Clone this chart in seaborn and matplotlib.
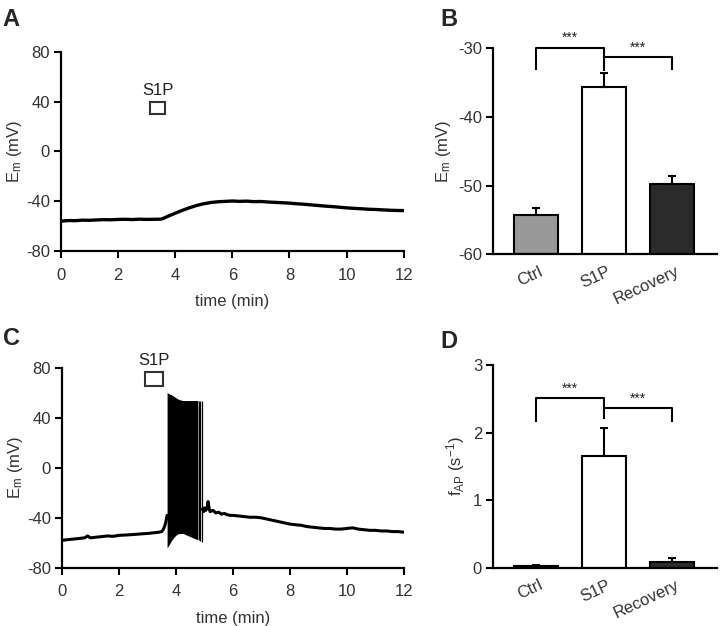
import numpy as np
import pandas as pd
import matplotlib
matplotlib.use("Agg")
import matplotlib.pyplot as plt
import seaborn as sns
from matplotlib.patches import Rectangle
from matplotlib.transforms import ScaledTranslation

sns.set_theme(style="ticks")
plt.rcParams['font.family'] = ['Liberation Sans', 'DejaVu Sans']
plt.rcParams['mathtext.default'] = 'regular'
plt.rcParams['axes.unicode_minus'] = False

# ---------------- data ----------------
# Panel A trace (time in min, Em in mV)
tA = [0, 0.25, 0.5, 0.75, 1, 1.25, 1.5, 1.75, 2, 2.25, 2.5, 2.75, 3, 3.25, 3.5, 3.6,
      3.75, 4, 4.25, 4.5, 4.75, 5, 5.25, 5.5, 5.75, 6, 6.25, 6.5, 6.75, 7, 7.25, 7.5,
      7.75, 8, 8.25, 8.5, 8.75, 9, 9.25, 9.5, 9.75, 10, 10.25, 10.5, 10.75, 11, 11.25,
      11.5, 11.75, 12]
vA = [-56, -55.5, -55.6, -55.2, -55.3, -55, -54.8, -54.9, -54.6, -54.5, -54.7, -54.4,
      -54.6, -54.5, -54.4, -53.6, -52, -49.6, -47.3, -45.2, -43.4, -42, -41, -40.4,
      -40.1, -39.8, -40.1, -39.9, -40.3, -40.2, -40.6, -40.9, -41.2, -41.5, -42, -42.4,
      -42.9, -43.4, -43.9, -44.3, -44.8, -45.3, -45.7, -46, -46.4, -46.6, -46.9, -47.2,
      -47.4, -47.5]

# Panel C trace before / after the spike train
tC_pre = [0, 0.2, 0.4, 0.6, 0.8, 0.9, 1, 1.2, 1.4, 1.6, 1.8, 2, 2.2, 2.4, 2.6, 2.8,
          3, 3.2, 3.4, 3.5, 3.55, 3.6, 3.65, 3.69]
vC_pre = [-58, -57.5, -57, -56.5, -56, -54.5, -56, -55.5, -55, -54.5, -54.8, -54, -53.8,
          -53.5, -53.2, -52.8, -52.5, -52, -51.5, -51, -49.5, -47, -43, -38]
tC_post = [4.93, 4.97, 5.0, 5.05, 5.1, 5.13, 5.17, 5.2, 5.3, 5.4, 5.5, 5.6, 5.7, 5.8,
           5.9, 6, 6.2, 6.4, 6.6, 6.8, 7, 7.2, 7.4, 7.6, 7.8, 8, 8.2, 8.4, 8.6, 8.8, 9,
           9.2, 9.4, 9.6, 9.8, 10, 10.2, 10.4, 10.6, 10.8, 11, 11.2, 11.4, 11.6, 11.8, 12]
vC_post = [-33, -35, -32, -34, -31, -27, -33, -35, -34, -36, -35.5, -37, -36.5, -37.5,
           -38, -38, -38.5, -39, -39.5, -39.5, -40, -41, -42, -43, -44, -45, -45.5, -46,
           -47, -47.5, -48, -48.5, -48.5, -49, -49, -48.5, -48, -49, -49.5, -50, -50,
           -50.5, -50.5, -51, -51, -51.5]
# envelope of the action-potential burst
spk_t = [3.69, 3.75, 3.85, 3.95, 4.05, 4.15, 4.25, 4.4, 4.55, 4.7, 4.77]
spk_hi = [60.5, 59.5, 58.5, 57, 55.5, 54.5, 54, 54, 54, 54, 54]
spk_lo = [-64, -62, -58, -55, -53, -52.5, -52.5, -54, -55.5, -57, -57.5]
iso_t = [4.80, 4.84, 4.91]
iso_hi = [54, 54, 54]
iso_lo = [-58, -58.5, -59]

# Bar charts
groups = ["Ctrl", "S1P", "Recovery"]
em_mean = [-54.3, -35.7, -49.8]
em_sem = [1.0, 2.1, 1.2]
fap_mean = [0.02, 1.66, 0.08]
fap_sem = [0.02, 0.41, 0.07]
bar_colors = ["#999999", "#ffffff", "#2b2b2b"]

# ---------------- figure ----------------
fig = plt.figure(figsize=(7.2, 6.26), dpi=100)
axA = fig.add_axes([0.0847, 0.599, 0.476, 0.318])
axB = fig.add_axes([0.685, 0.594, 0.311, 0.329])
axC = fig.add_axes([0.086, 0.093, 0.475, 0.319])
axD = fig.add_axes([0.685, 0.093, 0.311, 0.324])

tick_col = "#333333"
fs = 12


def style(ax):
    sns.despine(ax=ax)
    for s in ("left", "bottom"):
        ax.spines[s].set_linewidth(1.6)
        ax.spines[s].set_color("black")
    ax.tick_params(axis="both", direction="out", length=5, width=1.5, color="black",
                   labelsize=fs, labelcolor=tick_col, pad=3)


def trace_axes(ax):
    style(ax)
    ax.set_xlim(0, 12)
    ax.set_ylim(-80, 80)
    ax.set_xticks(range(0, 13, 2))
    ax.set_yticks([-80, -40, 0, 40, 80])
    ax.tick_params(axis="x", pad=7)
    ax.set_xlabel("time (min)", fontsize=fs, color=tick_col, labelpad=8)
    ax.set_ylabel(r"E$_{m}$ (mV)", fontsize=fs, color=tick_col, labelpad=1)


# Panel A
sns.lineplot(x=tA, y=vA, ax=axA, color="black", lw=2.4, estimator=None)
trace_axes(axA)
axA.add_patch(Rectangle((3.12, 30), 0.52, 10, fill=False, ec="#333333", lw=1.5))
axA.text(3.38, 43, "S1P", ha="center", va="bottom", fontsize=fs, color="#222222")

# Panel C
sns.lineplot(x=tC_pre, y=vC_pre, ax=axC, color="black", lw=2.2, estimator=None)
sns.lineplot(x=tC_post, y=vC_post, ax=axC, color="black", lw=2.2, estimator=None)
axC.fill_between(spk_t, spk_lo, spk_hi, color="black", lw=0)
axC.vlines(iso_t, iso_lo, iso_hi, color="black", lw=0.9)
trace_axes(axC)
axC.add_patch(Rectangle((2.92, 66), 0.62, 11, fill=False, ec="#333333", lw=1.5,
                        clip_on=False))
axC.text(3.23, 80, "S1P", ha="center", va="bottom", fontsize=fs, color="#222222",
         clip_on=False)


def bar_panel(ax, means, sems, ylim, yticks, ylabel, bottom):
    df = pd.DataFrame({"g": groups, "v": [m - bottom for m in means]})
    sns.barplot(data=df, x="g", y="v", hue="g", palette=bar_colors, ax=ax,
                width=0.65, edgecolor="black", linewidth=1.5, legend=False,
                errorbar=None, bottom=bottom)
    ax.errorbar([0, 1, 2], means, yerr=[[0, 0, 0], sems], fmt="none",
                ecolor="black", elinewidth=1.5, capsize=3, capthick=1.5)
    style(ax)
    ax.set_xlim(-0.63, 2.66)
    ax.set_ylim(*ylim)
    ax.set_yticks(yticks)
    ax.set_xlabel("")
    ax.set_ylabel(ylabel, fontsize=fs, color=tick_col, labelpad=4)
    ax.tick_params(axis="x", length=0, pad=7)
    for lab in ax.get_xticklabels():
        lab.set_rotation(25)
        lab.set_ha("right")
        lab.set_va("top")
        lab.set_rotation_mode("anchor")
        lab.set_transform(lab.get_transform() + ScaledTranslation(0.03, 0, fig.dpi_scale_trans))


def bracket(ax, x0, x1, ytop, yleg0, yleg1):
    ax.plot([x0, x0, x1, x1], [yleg0, ytop, ytop, yleg1], color="black", lw=1.5,
            clip_on=False, solid_capstyle="butt")


bar_panel(axB, em_mean, em_sem, (-60, -30), [-60, -50, -40, -30],
          r"E$_{m}$ (mV)", -60)
bracket(axB, 0, 1, -29.95, -33.2, -33.3)
bracket(axB, 1, 2, -31.35, -31.35, -33.2)
axB.text(0.5, -29.5, "***", ha="center", va="bottom", fontsize=10, color="#222222")
axB.text(1.5, -30.95, "***", ha="center", va="bottom", fontsize=10, color="#222222")

bar_panel(axD, fap_mean, fap_sem, (0, 3), [0, 1, 2, 3],
          r"f$_{AP}$ (s$^{-1}$)", 0)
bracket(axD, 0, 1, 2.51, 2.16, 2.2)
bracket(axD, 1, 2, 2.36, 2.36, 2.16)
axD.text(0.5, 2.55, "***", ha="center", va="bottom", fontsize=10, color="#222222")
axD.text(1.5, 2.40, "***", ha="center", va="bottom", fontsize=10, color="#222222")

# panel letters
for x, y, s in [(0.004, 0.988, "A"), (0.612, 0.988, "B"),
                (0.004, 0.478, "C"), (0.612, 0.473, "D")]:
    fig.text(x, y, s, fontsize=17, fontweight="bold", va="top", ha="left")

fig.savefig("out.png", dpi=100, facecolor="white")
